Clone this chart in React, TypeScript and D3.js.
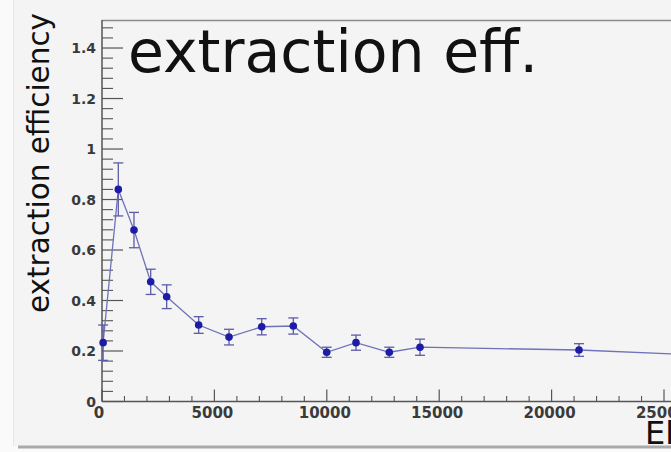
import React from "react";
import * as d3 from "d3";

const fieldValues = [50, 725, 1423, 2166, 2877, 4300, 5650, 7105, 8510, 9995, 11299, 12780, 14146, 21219, 28300];
const effValues = [0.233, 0.84, 0.679, 0.474, 0.415, 0.303, 0.255, 0.296, 0.299, 0.195, 0.233, 0.195, 0.215, 0.204, 0.178];
const effErrors = [0.07, 0.105, 0.07, 0.05, 0.047, 0.033, 0.031, 0.032, 0.032, 0.02, 0.03, 0.02, 0.032, 0.025, 0.02];
const yMajorTicks = [0, 0.2, 0.4, 0.6, 0.8, 1, 1.2, 1.4];
const xMajorTicks = [0, 5000, 10000, 15000, 20000, 25000];
const titleText = "extraction eff.";
const yTitle = "extraction efficiency";
const xTitle = "Electric field [V/cm]";

const W = 671;
const H = 452;

export default function App() {
  const x = d3.scaleLinear().domain([0, 30000]).range([102, 102 + 112.4 * 6]);
  const y = d3.scaleLinear().domain([0, 1.511]).range([401.5, 20]);

  const data = fieldValues.map((f, i) => ({ f, v: effValues[i], e: effErrors[i] }));
  const line = d3
    .line<{ f: number; v: number }>()
    .x((d) => x(d.f))
    .y((d) => y(d.v));

  const yMinor = d3.range(0, 1.5, 0.04).filter((v) => !yMajorTicks.some((m) => Math.abs(m - v) < 1e-6));
  const xMinor = d3.range(0, 30001, 1000).filter((v) => v % 5000 !== 0);

  const axisColor = "#555";
  const labelColor = "#3a3a3a";

  return (
    <svg
      width={W}
      height={H}
      style={{ position: "fixed", left: 0, top: 0, display: "block" }}
    >
      <rect x={0} y={0} width={W} height={H} fill="#fafafa" />
      <rect x={13} y={0} width={W - 13} height={446} fill="#f4f4f4" />
      <line x1={13.5} y1={0} x2={13.5} y2={446} stroke="#e6e6e6" />
      <rect x={18} y={445.5} width={W - 18} height={3} fill="#a9a9a9" />

      {/* frame */}
      <line x1={102} y1={20.5} x2={W} y2={20.5} stroke="#8a8a8a" strokeWidth={1.5} />
      <line x1={102} y1={20} x2={102} y2={401.5} stroke={axisColor} strokeWidth={1.5} />
      <line x1={102} y1={401.5} x2={W} y2={401.5} stroke={axisColor} strokeWidth={1.5} />

      {/* y ticks */}
      {yMajorTicks.map((t) => (
        <g key={"ym" + t}>
          <line x1={102} x2={123} y1={y(t)} y2={y(t)} stroke={axisColor} strokeWidth={1.2} />
          <text
            x={96}
            y={y(t)}
            dy="0.36em"
            textAnchor="end"
            fontFamily="DejaVu Sans"
            fontWeight="bold"
            fontSize={14}
            fill={labelColor}
          >
            {d3.format("~g")(t)}
          </text>
        </g>
      ))}
      {yMinor.map((t) => (
        <line key={"yn" + t} x1={102} x2={113} y1={y(t)} y2={y(t)} stroke={axisColor} strokeWidth={1.1} />
      ))}

      {/* x ticks */}
      {xMajorTicks.map((t) => (
        <g key={"xm" + t}>
          <line x1={x(t)} x2={x(t)} y1={401.5} y2={389.5} stroke={axisColor} strokeWidth={1.2} />
          <text
            x={t === 0 ? x(t) - 3 : x(t) - 2}
            y={418}
            textAnchor="middle"
            fontFamily="DejaVu Sans"
            fontWeight="bold"
            fontSize={15}
            fill={labelColor}
          >
            {t}
          </text>
        </g>
      ))}
      {xMinor.map((t) => (
        <line key={"xn" + t} x1={x(t)} x2={x(t)} y1={401.5} y2={396} stroke={axisColor} strokeWidth={1.1} />
      ))}

      {/* data line */}
      <path d={line(data) || ""} fill="none" stroke="#6f72b8" strokeWidth={1.3} />

      {/* error bars */}
      {data.map((d, i) => (
        <g key={"e" + i} stroke="#5b5ca8" strokeWidth={1.3}>
          <line x1={x(d.f)} x2={x(d.f)} y1={y(d.v - d.e)} y2={y(d.v + d.e)} />
          <line x1={x(d.f) - 5} x2={x(d.f) + 5} y1={y(d.v + d.e)} y2={y(d.v + d.e)} />
          <line x1={x(d.f) - 5} x2={x(d.f) + 5} y1={y(d.v - d.e)} y2={y(d.v - d.e)} />
        </g>
      ))}

      {/* markers */}
      {data.map((d, i) => (
        <circle key={"m" + i} cx={x(d.f)} cy={y(d.v)} r={3.8} fill="#1c1ca6" />
      ))}

      {/* title */}
      <text x={128} y={72} fontFamily="DejaVu Sans" fontSize={58} fill="#111" textLength={410} lengthAdjust="spacingAndGlyphs">
        {titleText}
      </text>

      {/* y axis title */}
      <text
        transform="translate(49,313) rotate(-90)"
        fontFamily="DejaVu Sans"
        fontSize={30}
        fill="#111"
        textLength={300}
        lengthAdjust="spacingAndGlyphs"
      >
        {yTitle}
      </text>

      {/* x axis title (mostly off-canvas) */}
      <text x={645} y={444} fontFamily="DejaVu Sans" fontSize={32} fill="#111">
        {xTitle}
      </text>
    </svg>
  );
}
